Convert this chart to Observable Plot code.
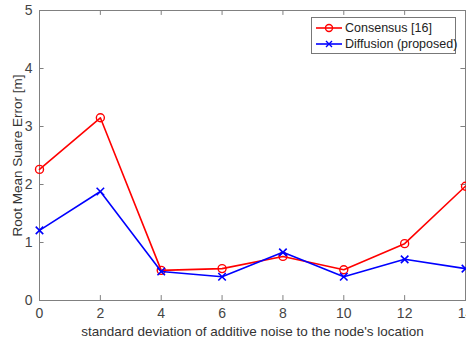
<!DOCTYPE html>
<html><head><meta charset="utf-8">
<script src="https://cdn.jsdelivr.net/npm/d3@7"></script>
<script src="https://cdn.jsdelivr.net/npm/@observablehq/plot@0.6"></script>
<style>
body{margin:0;background:#fff;font-family:"Liberation Sans",Arial,sans-serif;}
#wrap{position:relative;width:466px;height:342px;overflow:hidden;}
#legend{position:absolute;left:311px;top:17px;width:145px;height:37px;border:1px solid #777;background:#fff;font-size:12.5px;color:#222;box-sizing:border-box;}
.row{position:absolute;left:3px;height:16px;display:flex;align-items:center;white-space:nowrap;}
.row svg{margin-right:2px}
</style></head>
<body><div id="wrap"><div id="chart"></div>
<div id="legend">
<div class="row" style="top:2px"><svg width="28" height="12"><line x1="1" y1="6" x2="27" y2="6" stroke="#f00" stroke-width="1.6"/><circle cx="14" cy="6" r="3.5" fill="none" stroke="#f00" stroke-width="1.4"/></svg><span>Consensus [16]</span></div>
<div class="row" style="top:18px"><svg width="28" height="12"><line x1="1" y1="6" x2="27" y2="6" stroke="#00f" stroke-width="1.6"/><path d="M11,3L17,9M17,3L11,9" stroke="#00f" stroke-width="1.4"/></svg><span>Diffusion (proposed)</span></div>
</div></div>
<script>
const noise = [0, 2, 4, 6, 8, 10, 12, 14];
const consensus = [2.26, 3.15, 0.52, 0.55, 0.76, 0.53, 0.98, 1.97];
const diffusion = [1.21, 1.88, 0.50, 0.41, 0.83, 0.41, 0.71, 0.55];
const xTicks = [0, 2, 4, 6, 8, 10, 12, 14];
const yTicks = [0, 1, 2, 3, 4, 5];
const cData = noise.map((x, i) => ({x, y: consensus[i]}));
const dData = noise.map((x, i) => ({x, y: diffusion[i]}));
const axisColor = "#808080";
const plot = Plot.plot({
  width: 466, height: 342,
  marginTop: 10, marginBottom: 42, marginLeft: 39, marginRight: 1,
  style: {fontFamily: "Liberation Sans, Arial, sans-serif", color: "#444", background: "#fff"},
  x: {domain: [0, 14], ticks: xTicks, label: null},
  y: {domain: [0, 5], ticks: yTicks, label: null},
  marks: [
    Plot.frame({stroke: axisColor, strokeWidth: 1}),
    Plot.ruleX(xTicks, {x: d => d, y1: 0, y2: 0.085, stroke: axisColor}),
    Plot.ruleX(xTicks, {x: d => d, y1: 5, y2: 4.915, stroke: axisColor}),
    Plot.ruleY(yTicks, {y: d => d, x1: 0, x2: 0.15, stroke: axisColor}),
    Plot.ruleY(yTicks, {y: d => d, x1: 14, x2: 13.85, stroke: axisColor}),
    Plot.axisX({ticks: xTicks, tickSize: 0, tickPadding: 8, fontSize: 14, tickFormat: "d", label: null}),
    Plot.axisY({ticks: yTicks, tickSize: 0, tickPadding: 7, fontSize: 14, tickFormat: "d", label: null}),
    Plot.text(["standard deviation of additive noise to the node's location"], {frameAnchor: "bottom", dy: 35, fontSize: 13.5, fill: "#333"}),
    Plot.text(["Root Mean Suare Error [m]"], {frameAnchor: "left", textAnchor: "middle", rotate: -90, dx: -22, fontSize: 13.5, fill: "#333"}),
    Plot.line(cData, {x: "x", y: "y", stroke: "#f00", strokeWidth: 1.6}),
    Plot.dot(cData, {x: "x", y: "y", r: 4, stroke: "#f00", strokeWidth: 1.4, fill: "none"}),
    Plot.line(dData, {x: "x", y: "y", stroke: "#00f", strokeWidth: 1.6}),
    Plot.dot(dData, {x: "x", y: "y", symbol: "times", r: 3.5, stroke: "#00f", strokeWidth: 1.6})
  ]
});
document.getElementById("chart").appendChild(plot);
</script></body></html>
